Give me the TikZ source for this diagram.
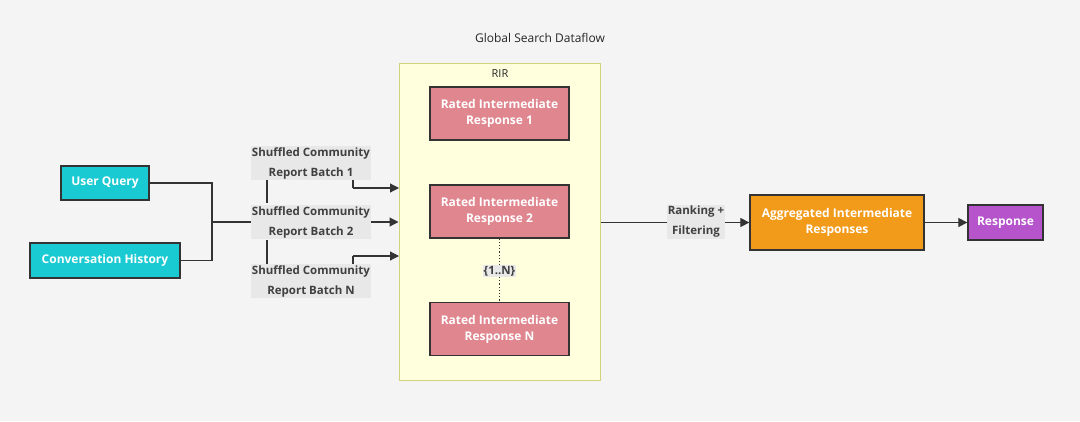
\documentclass[tikz,border=0pt]{standalone}
\usepackage{fontspec}
\setmainfont{Open Sans}
\usetikzlibrary{arrows.meta}
\definecolor{bgc}{HTML}{F4F4F4}
\definecolor{edge}{HTML}{333333}
\definecolor{teal}{HTML}{1ACAD2}
\definecolor{rose}{HTML}{E0868F}
\definecolor{orng}{HTML}{F29B1A}
\definecolor{purp}{HTML}{B554CB}
\definecolor{rirf}{HTML}{FFFFDE}
\definecolor{rird}{HTML}{D2D27A}
\definecolor{lblbg}{HTML}{E8E8E8}
\begin{document}
\begin{tikzpicture}[x=1pt,y=-1pt,
  box/.style={draw=edge,line width=1.3pt,text=white,font=\fontsize{12}{16}\selectfont\bfseries,align=center,inner sep=0pt},
  lbl/.style={fill=lblbg,text=black!75,font=\fontsize{11.5}{20}\selectfont\bfseries,align=center,inner sep=1pt},
  ln/.style={draw=edge,line width=1.2pt},
  arr/.style={ln,-{Triangle[length=9pt,width=9pt]}}]
\fill[bgc] (0,0) rectangle (1080,421);
\node[font=\fontsize{12}{14}\selectfont,text=black!85] (title) at (540,38) {Global Search Dataflow};
\node[draw=rird,fill=rirf,line width=1pt,minimum width=201pt,minimum height=317pt,inner sep=0pt] (rir) at (499.5,221.5) {};
\node[font=\fontsize{11}{13}\selectfont,text=black!85] (rirl) at (500,74) {RIR};
\node[box,fill=rose,minimum width=139pt,minimum height=53pt] (r1) at (499.5,113.5) {Rated Intermediate\\Response 1};
\node[box,fill=rose,minimum width=139pt,minimum height=53pt] (r2) at (499.5,211.5) {Rated Intermediate\\Response 2};
\node[box,fill=rose,minimum width=139pt,minimum height=53pt] (rn) at (499.5,329) {Rated Intermediate\\Response N};
\draw[ln,dotted,line width=1.5pt] (r2.south) -- (rn.north);
\node[lbl] (dots) at (499.5,271) {\{1..N\}};
\node[box,fill=teal,minimum width=88pt,minimum height=34pt] (uq) at (105,183) {User Query};
\node[box,fill=teal,minimum width=150pt,minimum height=35pt] (ch) at (105,260.5) {Conversation History};
\coordinate (j) at (212,222);
\draw[ln] (uq.east) -| (j);
\draw[ln] (ch.east) -| (j);
\node[lbl] (b1) at (311,163) {Shuffled Community\\Report Batch 1};
\node[lbl] (b2) at (311,222) {Shuffled Community\\Report Batch 2};
\node[lbl] (bn) at (311,281) {Shuffled Community\\Report Batch N};
\coordinate (t1) at (399,188);
\coordinate (tn) at (399,256);
\draw[ln] (267,203) -- (267,163) -- (353,163) -- (353,188);
\draw[arr] (353,188) -- (t1);
\draw[ln] (267,240) -- (267,281) -- (353,281) -- (353,256);
\draw[arr] (353,256) -- (tn);
\draw[arr] (j) -- (rir.west |- j);
\node[box,fill=orng,minimum width=174pt,minimum height=55pt] (agg) at (837,222.5) {Aggregated Intermediate\\Responses};
\node[box,fill=purp,minimum width=75pt,minimum height=35pt] (resp) at (1005.5,222.5) {Response};
\draw[arr] (rir.east |- agg) -- (agg.west);
\node[lbl] (rk) at (696,222) {Ranking +\\Filtering};
\draw[arr] (agg.east) -- (resp.west);
\node[lbl] at (311,163) {Shuffled Community\\Report Batch 1};
\node[lbl] at (311,222) {Shuffled Community\\Report Batch 2};
\node[lbl] at (311,281) {Shuffled Community\\Report Batch N};
\node[lbl] at (696,222) {Ranking +\\Filtering};
\end{tikzpicture}
\end{document}
